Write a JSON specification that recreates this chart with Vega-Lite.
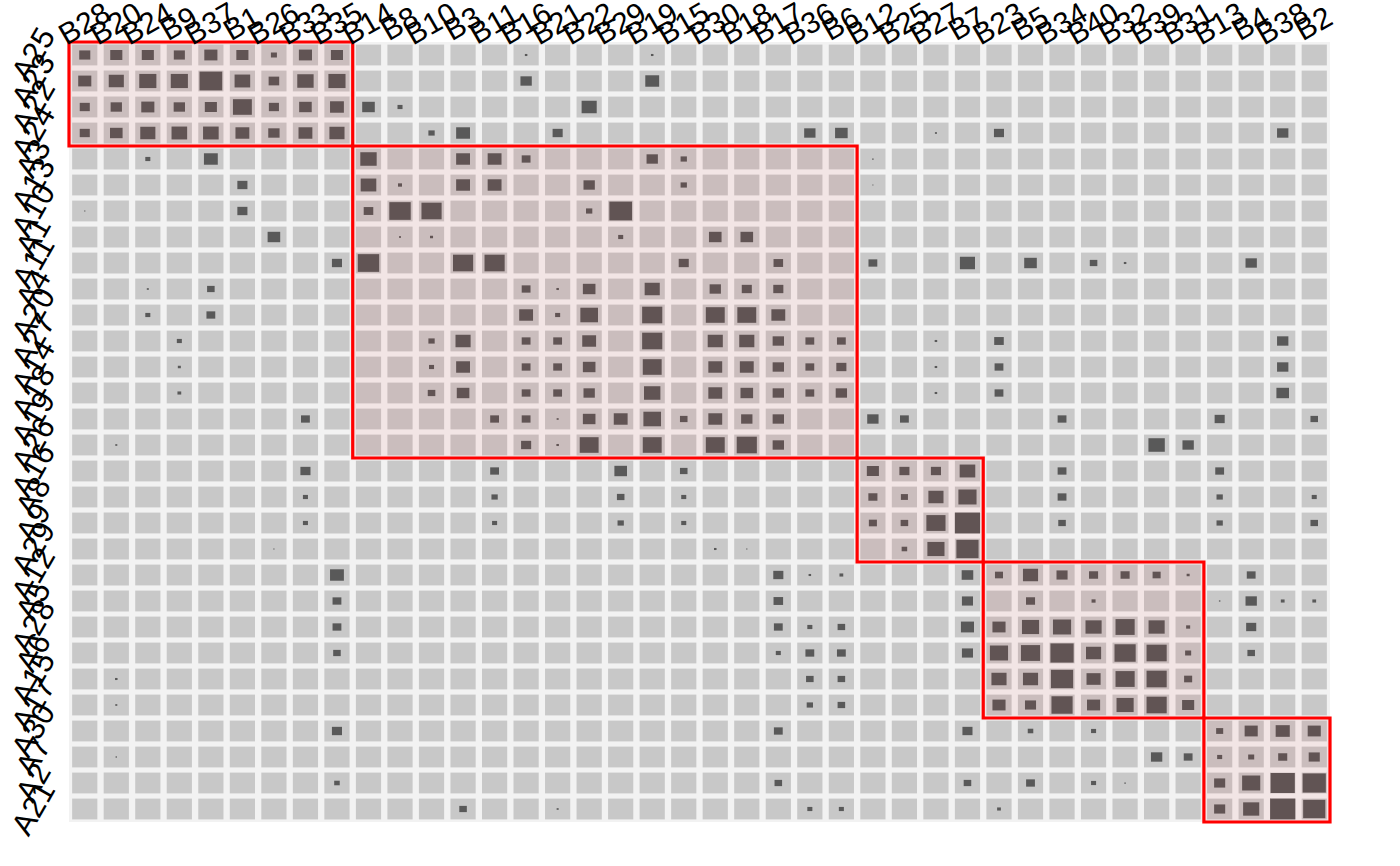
{
  "$schema": "https://vega.github.io/schema/vega-lite/v6.json",
  "width": 1261,
  "height": 780,
  "autosize": {"type": "none"},
  "padding": {"left": 69, "top": 42, "right": 70, "bottom": 44},
  "background": "white",
  "config": {
    "view": {"stroke": null, "fill": "#f2f2f2"},
    "font": "Liberation Sans"
  },
  "datasets": {
    "cells": [
      {"r": "A25", "B28": 0.44, "B20": 0.48, "B24": 0.48, "B9": 0.44, "B37": 0.52, "B1": 0.48, "B26": 0.24, "B33": 0.52, "B35": 0.48, "B16": 0.1, "B19": 0.1},
      {"r": "A23", "B28": 0.52, "B20": 0.6, "B24": 0.68, "B9": 0.68, "B37": 0.9, "B1": 0.62, "B26": 0.42, "B33": 0.65, "B35": 0.68, "B16": 0.45, "B19": 0.55},
      {"r": "A22", "B28": 0.4, "B20": 0.45, "B24": 0.52, "B9": 0.45, "B37": 0.48, "B1": 0.75, "B26": 0.4, "B33": 0.5, "B35": 0.55, "B14": 0.5, "B8": 0.2, "B22": 0.6},
      {"r": "A24", "B28": 0.4, "B20": 0.5, "B24": 0.6, "B9": 0.62, "B37": 0.62, "B1": 0.55, "B26": 0.45, "B33": 0.55, "B35": 0.6, "B10": 0.25, "B3": 0.55, "B21": 0.4, "B36": 0.45, "B6": 0.5, "B27": 0.08, "B23": 0.4, "B38": 0.45},
      {"r": "A3", "B24": 0.2, "B37": 0.55, "B14": 0.65, "B3": 0.55, "B11": 0.55, "B16": 0.35, "B19": 0.45, "B15": 0.25, "B12": 0.06},
      {"r": "A13", "B1": 0.4, "B14": 0.62, "B8": 0.16, "B3": 0.55, "B11": 0.55, "B22": 0.45, "B15": 0.25, "B12": 0.04},
      {"r": "A10", "B28": 0.05, "B1": 0.4, "B14": 0.38, "B8": 0.85, "B10": 0.8, "B22": 0.25, "B29": 0.9},
      {"r": "A1", "B26": 0.5, "B8": 0.08, "B10": 0.12, "B29": 0.2, "B30": 0.5, "B18": 0.5},
      {"r": "A11", "B35": 0.4, "B14": 0.85, "B3": 0.8, "B11": 0.8, "B15": 0.4, "B17": 0.38, "B12": 0.35, "B7": 0.6, "B5": 0.5, "B40": 0.3, "B32": 0.1, "B4": 0.45},
      {"r": "A4", "B24": 0.08, "B37": 0.3, "B16": 0.35, "B21": 0.1, "B22": 0.5, "B19": 0.6, "B30": 0.45, "B18": 0.4, "B17": 0.4},
      {"r": "A20", "B24": 0.2, "B37": 0.35, "B16": 0.55, "B21": 0.2, "B22": 0.7, "B19": 0.8, "B30": 0.75, "B18": 0.75, "B17": 0.55},
      {"r": "A27", "B9": 0.2, "B10": 0.25, "B3": 0.6, "B16": 0.35, "B21": 0.35, "B22": 0.55, "B19": 0.8, "B30": 0.6, "B18": 0.6, "B17": 0.45, "B36": 0.35, "B6": 0.35, "B27": 0.1, "B23": 0.38, "B38": 0.45},
      {"r": "A14", "B9": 0.12, "B10": 0.2, "B3": 0.55, "B16": 0.35, "B21": 0.35, "B22": 0.5, "B19": 0.75, "B30": 0.55, "B18": 0.55, "B17": 0.45, "B36": 0.35, "B6": 0.4, "B27": 0.1, "B23": 0.35, "B38": 0.45},
      {"r": "A18", "B9": 0.15, "B10": 0.3, "B3": 0.5, "B16": 0.35, "B21": 0.35, "B22": 0.45, "B19": 0.65, "B30": 0.55, "B18": 0.5, "B17": 0.45, "B36": 0.35, "B6": 0.45, "B27": 0.1, "B23": 0.35, "B38": 0.5},
      {"r": "A19", "B33": 0.35, "B11": 0.35, "B16": 0.35, "B21": 0.08, "B22": 0.5, "B29": 0.55, "B19": 0.7, "B15": 0.3, "B30": 0.55, "B18": 0.45, "B17": 0.45, "B12": 0.45, "B25": 0.35, "B34": 0.35, "B13": 0.4, "B2": 0.3},
      {"r": "A26", "B20": 0.08, "B16": 0.4, "B21": 0.1, "B22": 0.75, "B19": 0.75, "B30": 0.75, "B18": 0.8, "B17": 0.45, "B39": 0.65, "B31": 0.45},
      {"r": "A16", "B33": 0.4, "B11": 0.35, "B29": 0.5, "B15": 0.3, "B12": 0.48, "B25": 0.4, "B27": 0.4, "B7": 0.62, "B34": 0.35, "B13": 0.35},
      {"r": "A8", "B33": 0.2, "B11": 0.25, "B29": 0.3, "B15": 0.2, "B12": 0.36, "B25": 0.28, "B27": 0.6, "B7": 0.72, "B34": 0.35, "B13": 0.25, "B2": 0.2},
      {"r": "A9", "B33": 0.2, "B11": 0.2, "B29": 0.25, "B15": 0.2, "B12": 0.32, "B25": 0.3, "B27": 0.76, "B7": 1.0, "B34": 0.3, "B13": 0.25, "B2": 0.3},
      {"r": "A29", "B26": 0.05, "B30": 0.1, "B18": 0.05, "B25": 0.22, "B27": 0.68, "B7": 0.88},
      {"r": "A12", "B35": 0.55, "B17": 0.4, "B36": 0.1, "B6": 0.15, "B7": 0.46, "B23": 0.32, "B5": 0.6, "B34": 0.44, "B40": 0.36, "B32": 0.36, "B39": 0.32, "B31": 0.12, "B4": 0.35},
      {"r": "A5", "B35": 0.35, "B17": 0.38, "B7": 0.44, "B5": 0.36, "B40": 0.16, "B13": 0.06, "B4": 0.45, "B38": 0.15, "B2": 0.15},
      {"r": "A28", "B35": 0.35, "B17": 0.35, "B36": 0.2, "B6": 0.3, "B7": 0.52, "B23": 0.52, "B5": 0.68, "B34": 0.72, "B40": 0.64, "B32": 0.76, "B39": 0.64, "B31": 0.16, "B4": 0.4},
      {"r": "A6", "B35": 0.3, "B17": 0.2, "B36": 0.35, "B6": 0.35, "B7": 0.44, "B23": 0.72, "B5": 0.76, "B34": 0.92, "B40": 0.6, "B32": 0.84, "B39": 0.8, "B31": 0.24, "B4": 0.3},
      {"r": "A15", "B20": 0.1, "B36": 0.3, "B6": 0.3, "B23": 0.6, "B5": 0.6, "B34": 0.88, "B40": 0.56, "B32": 0.76, "B39": 0.8, "B31": 0.32},
      {"r": "A17", "B20": 0.08, "B36": 0.25, "B6": 0.3, "B23": 0.52, "B5": 0.44, "B34": 0.84, "B40": 0.52, "B32": 0.68, "B39": 0.8, "B31": 0.48},
      {"r": "A30", "B35": 0.4, "B17": 0.35, "B7": 0.4, "B5": 0.22, "B40": 0.2, "B13": 0.28, "B4": 0.52, "B38": 0.56, "B2": 0.52},
      {"r": "A7", "B20": 0.06, "B39": 0.45, "B31": 0.35, "B13": 0.2, "B4": 0.24, "B38": 0.36, "B2": 0.44},
      {"r": "A2", "B35": 0.22, "B17": 0.3, "B7": 0.3, "B5": 0.35, "B40": 0.2, "B32": 0.06, "B13": 0.44, "B4": 0.72, "B38": 0.96, "B2": 0.92},
      {"r": "A21", "B3": 0.3, "B21": 0.08, "B36": 0.2, "B6": 0.2, "B23": 0.15, "B13": 0.44, "B4": 0.64, "B38": 1.0, "B2": 0.88}
    ],
    "blocks": [
      {"c0": "B28", "c1": "B35", "r0": "A25", "r1": "A24"},
      {"c0": "B14", "c1": "B6", "r0": "A3", "r1": "A26"},
      {"c0": "B12", "c1": "B7", "r0": "A16", "r1": "A29"},
      {"c0": "B23", "c1": "B31", "r0": "A12", "r1": "A17"},
      {"c0": "B13", "c1": "B2", "r0": "A30", "r1": "A21"}
    ]
  },
  "layer": [
    {
      "data": {"name": "cells"},
      "transform": [
        {"fold": ["B28","B20","B24","B9","B37","B1","B26","B33","B35","B14","B8","B10","B3","B11","B16","B21","B22","B29","B19","B15","B30","B18","B17","B36","B6","B12","B25","B27","B7","B23","B5","B34","B40","B32","B39","B31","B13","B4","B38","B2"], "as": ["c", "v"]}
      ],
      "mark": {"type": "rect", "fill": "#c8c8c8"},
      "encoding": {
        "x": {
          "field": "c", "type": "nominal",
          "scale": {
            "domain": ["B28","B20","B24","B9","B37","B1","B26","B33","B35","B14","B8","B10","B3","B11","B16","B21","B22","B29","B19","B15","B30","B18","B17","B36","B6","B12","B25","B27","B7","B23","B5","B34","B40","B32","B39","B31","B13","B4","B38","B2"],
            "paddingInner": 0.2, "paddingOuter": 0.1
          },
          "axis": {
            "orient": "top", "title": null, "ticks": false, "domain": false,
            "labelAngle": -30, "labelAlign": "center", "labelBaseline": "middle",
            "labelPadding": 18, "labelFontSize": 30, "labelColor": "black",
            "labelFont": "Liberation Sans", "labelOverlap": false, "labelBound": false, "labelFlush": false
          }
        },
        "y": {
          "field": "r", "type": "nominal",
          "scale": {
            "domain": ["A25","A23","A22","A24","A3","A13","A10","A1","A11","A4","A20","A27","A14","A18","A19","A26","A16","A8","A9","A29","A12","A5","A28","A6","A15","A17","A30","A7","A2","A21"],
            "paddingInner": 0.2, "paddingOuter": 0.1
          },
          "axis": {
            "title": null, "ticks": false, "domain": false,
            "labelAngle": -60, "labelAlign": "center", "labelBaseline": "middle",
            "labelPadding": 35, "labelFontSize": 31, "labelColor": "black",
            "labelFont": "Liberation Sans", "labelOverlap": false, "labelBound": false, "labelFlush": false
          }
        }
      }
    },
    {
      "data": {"name": "cells"},
      "transform": [
        {"fold": ["B28","B20","B24","B9","B37","B1","B26","B33","B35","B14","B8","B10","B3","B11","B16","B21","B22","B29","B19","B15","B30","B18","B17","B36","B6","B12","B25","B27","B7","B23","B5","B34","B40","B32","B39","B31","B13","B4","B38","B2"], "as": ["c", "v"]},
        {"filter": "datum.v > 0"}
      ],
      "mark": {"type": "point", "shape": "M-1.1,-0.909H1.1V0.909H-1.1Z", "filled": true, "color": "#595959", "opacity": 1, "strokeWidth": 0},
      "encoding": {
        "x": {"field": "c", "type": "nominal"},
        "y": {"field": "r", "type": "nominal"},
        "size": {
          "field": "v", "type": "quantitative",
          "scale": {"type": "pow", "exponent": 2, "domain": [0, 1], "range": [0, 525]},
          "legend": null
        }
      }
    },
    {
      "data": {"name": "blocks"},
      "mark": {"type": "rect", "fill": "#ff0000", "fillOpacity": 0.05, "stroke": "#ff0000", "strokeWidth": 3.2},
      "encoding": {
        "x": {"field": "c0", "type": "nominal", "bandPosition": -0.125},
        "x2": {"field": "c1", "bandPosition": 1.125},
        "y": {"field": "r0", "type": "nominal", "bandPosition": -0.125},
        "y2": {"field": "r1", "bandPosition": 1.125}
      }
    }
  ]
}
